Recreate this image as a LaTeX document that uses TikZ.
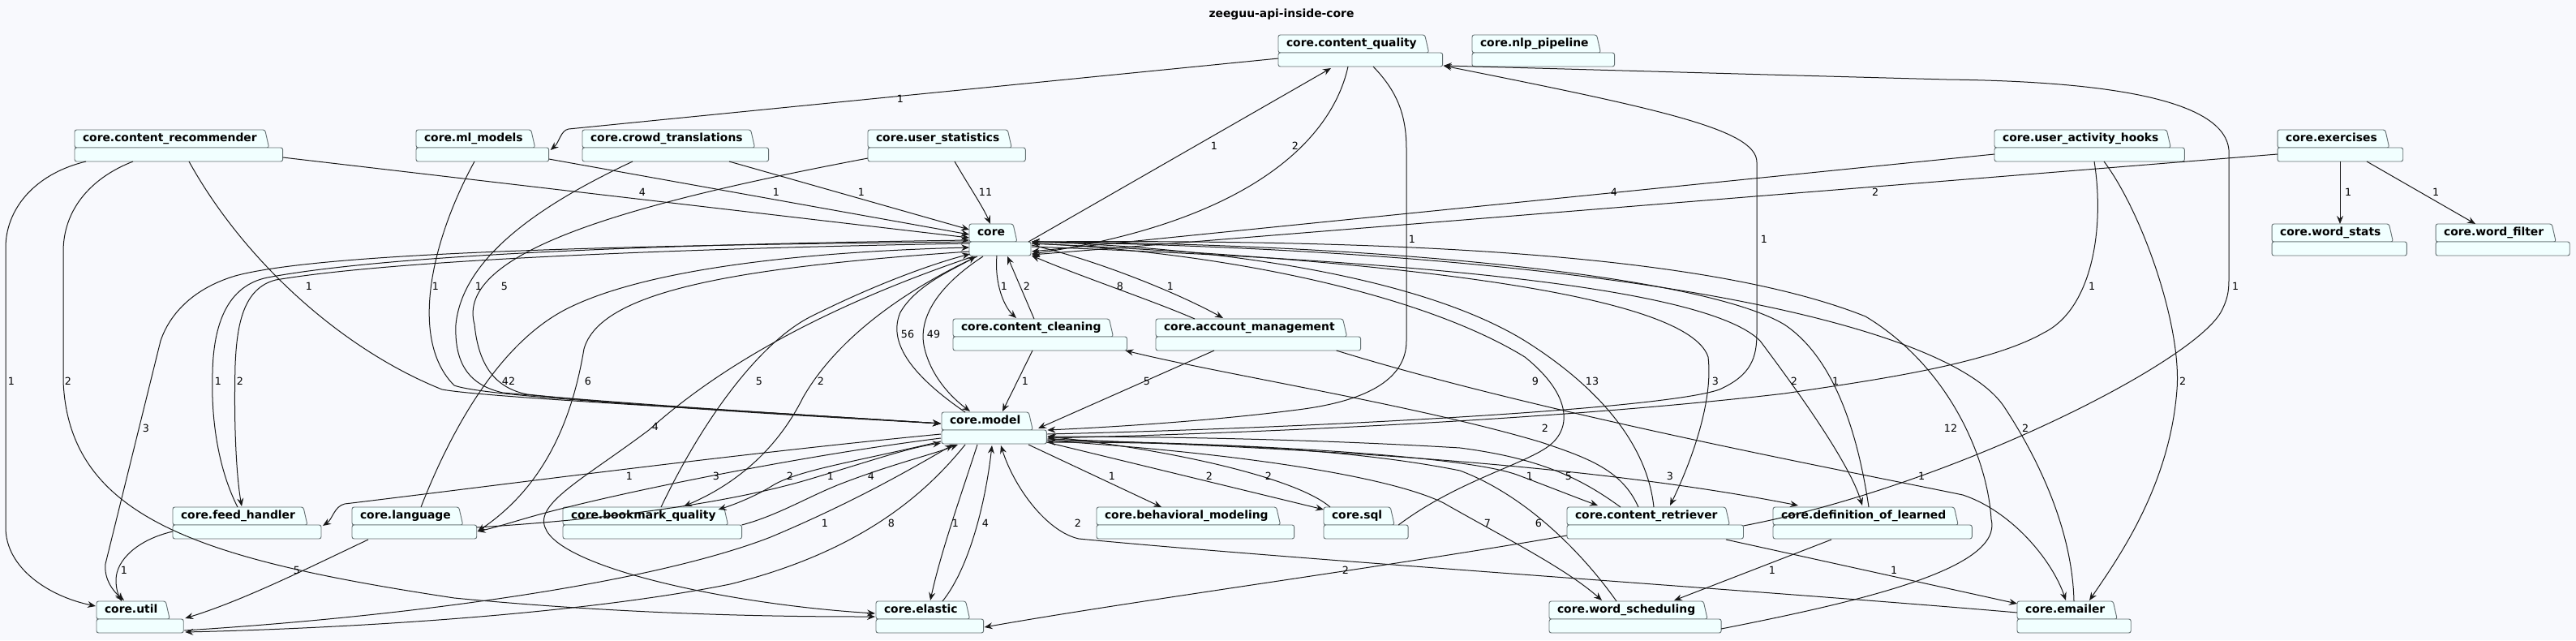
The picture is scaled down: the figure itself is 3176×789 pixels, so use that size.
\documentclass[tikz,border=0pt]{standalone}
\usepackage{fontspec}
\setmainfont{DejaVu Sans}
\usetikzlibrary{arrows.meta,calc,fit}
\definecolor{bgc}{RGB}{248,249,253}
\definecolor{pkgfill}{RGB}{241,255,255}
\definecolor{pkgline}{RGB}{100,112,114}
\definecolor{edgec}{RGB}{24,24,24}
\newcommand\pnw[3]{($(#1.north west)+(#2,#3)$)}
\newcommand\pne[3]{($(#1.north east)+(#2,#3)$)}
\tikzset{
  pkgtab/.style={anchor=north west, inner xsep=7.5pt, inner ysep=0pt, outer sep=0pt,
    minimum height=16.5pt, text height=7.9pt, text depth=2.4pt,
    font=\bfseries\fontsize{10.4pt}{12pt}\selectfont},
  pkgbox/.style={draw=pkgline, fill=pkgfill, line width=0.7pt, rounded corners=1.9pt},
  dep/.style={draw=edgec, line width=0.75pt, line join=round,
    -{Stealth[length=7.5pt, width=6pt, inset=2.6pt]}},
  lbl/.style={font=\fontsize{9.5pt}{11pt}\selectfont, inner sep=0pt, text=black},
}
\newcommand\mkpkg[4]{%
  \node[pkgtab] (#1t) at (#2,#3) {\phantom{#4}};
  \coordinate (#1br) at ($(#1t.south east)+(22,17)$);
  \filldraw[pkgbox] (#1t.south west) -- (#1t.north west) -- (#1t.north east) -- ($(#1t.south east)+(5,0)$) -- cycle;
  \filldraw[pkgbox] (#1t.south west) rectangle (#1br);
  \node[pkgtab] (#1l) at (#2,#3) {#4};
  \node[fit=(#1t)(#1br), inner sep=0pt, outer sep=0pt] (#1) {};
}
\begin{document}
\begin{tikzpicture}[x=0.75pt, y=-0.75pt]
\fill[bgc] (0,0) rectangle (3176,789);
\useasboundingbox (0,0) rectangle (3176,789);
\node[font=\bfseries\fontsize{10.4pt}{12pt}\selectfont] (title) at (1580,18) {zeeguu-api-inside-core};

\mkpkg{cq}{1576}{43}{core.content\_quality}
\mkpkg{nlp}{1815}{43}{core.nlp\_pipeline}
\mkpkg{crec}{92}{160}{core.content\_recommender}
\mkpkg{ml}{513}{160}{core.ml\_models}
\mkpkg{crowd}{718}{160}{core.crowd\_translations}
\mkpkg{ustat}{1070}{160}{core.user\_statistics}
\mkpkg{uah}{2459}{160}{core.user\_activity\_hooks}
\mkpkg{ex}{2808}{160}{core.exercises}
\mkpkg{core}{1195}{276}{core}
\mkpkg{ws}{2801}{276}{core.word\_stats}
\mkpkg{wf}{3003}{276}{core.word\_filter}
\mkpkg{cc}{1175}{393}{core.content\_cleaning}
\mkpkg{am}{1425}{393}{core.account\_management}
\mkpkg{model}{1161}{508}{core.model}
\mkpkg{fh}{213}{625}{core.feed\_handler}
\mkpkg{lang}{434}{625}{core.language}
\mkpkg{bq}{694}{625}{core.bookmark\_quality}
\mkpkg{bm}{1352}{625}{core.behavioral\_modeling}
\mkpkg{sql}{1632}{625}{core.sql}
\mkpkg{cr}{1932}{625}{core.content\_retriever}
\mkpkg{dol}{2186}{625}{core.definition\_of\_learned}
\mkpkg{util}{119}{741}{core.util}
\mkpkg{el}{1080}{741}{core.elastic}
\mkpkg{wsch}{1910}{741}{core.word\_scheduling}
\mkpkg{em}{2487}{741}{core.emailer}

% ---- edges ----
\draw[dep] \pnw{cq}{0}{29} -- (701,159) .. controls (691,161) and (690,175) .. \pne{ml}{2}{25};
\node[lbl] (l1) at (1110,122) {1};
\draw[dep] \pne{core}{-3}{22} -- \pnw{cq}{65}{41};
\node[lbl] (l2) at (1497,180) {1};
\draw[dep] \pnw{cq}{86}{39} .. controls (1645,160) and (1560,270) .. \pne{core}{1}{37};
\node[lbl] (l3) at (1597,180) {2};
\draw[dep] \pnw{cq}{117}{39} .. controls (1725,115) and (1734,145) .. (1734,185) -- (1734,420) .. controls (1734,470) and (1680,495) .. (1600,505) .. controls (1500,518) and (1380,526) .. \pne{model}{1}{22};
\node[lbl] (l4) at (1741,295) {1};
\draw[dep] \pne{model}{1}{27} .. controls (1600,528) and (2050,505) .. (2120,480) .. controls (2160,462) and (2166,440) .. (2166,410) -- (2166,200) .. controls (2166,160) and (2050,135) .. \pne{cq}{1}{38};
\node[lbl] (l5) at (2175,295) {1};
\draw[dep] \pne{cr}{0}{23} .. controls (2400,600) and (2700,450) .. (2738,385) .. controls (2746,370) and (2748,360) .. (2748,345) -- (2748,185) .. controls (2742,115) and (2560,100) .. (2400,98) .. controls (2100,90) and (1900,84) .. \pne{cq}{1}{38};
\node[lbl] (l6) at (2756,353) {1};
\draw[dep] \pne{crec}{0}{34} -- \pnw{core}{0}{17};
\node[lbl] (l7) at (792,237) {4};
\draw[dep] \pne{ml}{0}{36} -- \pnw{core}{0}{13};
\node[lbl] (l8) at (957,237) {1};
\draw[dep] \pnw{crowd}{181}{39} -- \pnw{core}{0}{7};
\node[lbl] (l9) at (1062,237) {1};
\draw[dep] \pnw{ustat}{107}{39} .. controls (1195,230) and (1212,255) .. \pnw{core}{26}{0};
\node[lbl] (l10) at (1215,237) {11};
\draw[dep] \pnw{uah}{0}{30} -- \pne{core}{1}{34};
\node[lbl] (l11) at (1990,237) {4};
\draw[dep] \pnw{ex}{0}{30} -- \pne{core}{1}{38};
\node[lbl] (l12) at (2312,237) {2};
\draw[dep] \pnw{ex}{77}{39} -- \pnw{ws}{84}{0};
\node[lbl] (l13) at (2895,237) {1};
\draw[dep] \pnw{ex}{110}{39} -- \pnw{wf}{49}{0};
\node[lbl] (l14) at (3003,237) {1};
\draw[dep] \pnw{core}{34}{39} .. controls (1226,350) and (1238,378) .. \pnw{cc}{78}{-1};
\node[lbl] (l15) at (1238,353) {1};
\draw[dep] \pnw{cc}{100}{0} -- \pnw{core}{47}{40};
\node[lbl] (l16) at (1266,353) {2};
\draw[dep] \pnw{am}{48}{0} .. controls (1420,370) and (1330,340) .. \pne{core}{1}{39};
\node[lbl] (l17) at (1381,353) {8};
\draw[dep] \pne{core}{1}{26} .. controls (1350,320) and (1450,360) .. \pnw{am}{83}{-1};
\node[lbl] (l18) at (1443,353) {1};
\draw[dep] \pnw{crec}{14}{39} .. controls (40,215) and (7,260) .. (7,305) -- (7,650) .. controls (7,700) and (60,735) .. \pnw{util}{-1}{6};
\node[lbl] (l19) at (14,470) {1};
\draw[dep] \pnw{crec}{72}{39} .. controls (110,220) and (78,260) .. (78,310) -- (78,470) .. controls (85,640) and (250,690) .. (560,737) .. controls (800,760) and (1000,760) .. \pnw{el}{-1}{19};
\node[lbl] (l20) at (84,470) {2};
\draw[dep] \pnw{core}{0}{22} .. controls (800,302) and (400,310) .. (290,340) .. controls (240,355) and (210,385) .. (198,420) -- (130,695) .. controls (128,715) and (141,730) .. \pnw{util}{34}{-1};
\node[lbl] (l21) at (180,528) {3};
\draw[dep] \pnw{fh}{80}{0} .. controls (270,580) and (260,520) .. (262,460) .. controls (263,400) and (280,352) .. (330,342) .. controls (500,310) and (900,300) .. \pnw{core}{0}{20};
\node[lbl] (l22) at (269,470) {1};
\draw[dep] \pnw{core}{0}{24} .. controls (900,305) and (500,318) .. (340,345) .. controls (300,355) and (292,400) .. (290,450) .. controls (288,530) and (292,590) .. \pnw{fh}{85}{-1};
\node[lbl] (l23) at (296,470) {2};
\draw[dep] \pnw{lang}{85}{0} .. controls (560,520) and (620,420) .. (700,380) .. controls (800,330) and (1000,310) .. \pnw{core}{0}{29};
\node[lbl] (l24) at (627,470) {42};
\draw[dep] \pnw{core}{0}{34} .. controls (900,330) and (740,360) .. (720,430) .. controls (705,520) and (670,600) .. \pne{lang}{1}{30};
\node[lbl] (l25) at (725,470) {6};
\draw[dep] \pnw{bq}{121}{0} .. controls (870,510) and (940,420) .. (1000,390) .. controls (1080,350) and (1150,325) .. \pnw{core}{1}{37};
\node[lbl] (l26) at (936,470) {5};
\draw[dep] \pnw{core}{10}{40} .. controls (1110,360) and (1030,420) .. (990,490) .. controls (955,560) and (900,600) .. \pnw{bq}{149}{-1};
\node[lbl] (l27) at (1012,470) {2};
\draw[dep] \pnw{core}{5}{40} .. controls (1040,370) and (900,440) .. (800,530) .. controls (720,590) and (660,620) .. (672,650) .. controls (690,700) and (900,745) .. \pnw{el}{-1}{15};
\node[lbl] (l28) at (808,526) {4};
\draw[dep] \pnw{model}{29}{0} .. controls (1120,460) and (1095,420) .. (1110,385) .. controls (1130,350) and (1180,330) .. \pnw{core}{8}{40};
\node[lbl] (l29) at (1119,412) {56};
\draw[dep] \pnw{core}{17}{40} .. controls (1160,350) and (1130,390) .. (1140,430) .. controls (1150,470) and (1180,495) .. \pnw{model}{35}{-1};
\node[lbl] (l30) at (1151,412) {49};
\draw[dep] \pnw{cc}{98}{39} -- \pnw{model}{75}{-1};
\node[lbl] (l31) at (1264,470) {1};
\draw[dep] \pnw{am}{72}{39} -- \pnw{model}{119}{20};
\node[lbl] (l32) at (1414,470) {5};
\draw[dep] \pnw{crec}{141}{39} .. controls (300,320) and (420,430) .. (545,480) .. controls (600,490) and (900,505) .. \pnw{model}{-1}{14};
\node[lbl] (l33) at (381,353) {1};
\draw[dep] \pnw{ml}{72}{39} .. controls (530,300) and (505,420) .. (560,475) .. controls (600,490) and (900,505) .. \pnw{model}{-1}{14};
\node[lbl] (l34) at (537,353) {1};
\draw[dep] \pnw{crowd}{62}{39} .. controls (660,255) and (570,320) .. (562,400) .. controls (560,450) and (580,475) .. (620,484) .. controls (800,500) and (1000,512) .. \pnw{model}{-1}{14};
\node[lbl] (l35) at (590,353) {1};
\draw[dep] \pnw{ustat}{0}{35} .. controls (780,250) and (560,310) .. (585,400) .. controls (590,450) and (610,478) .. (650,486) .. controls (800,502) and (1000,513) .. \pnw{model}{-1}{14};
\node[lbl] (l36) at (622,353) {5};
\draw[dep] \pnw{model}{-1}{27} .. controls (900,560) and (600,600) .. (425,621) .. controls (412,624) and (410,640) .. \pne{fh}{2}{23};
\node[lbl] (l37) at (776,587) {1};
\draw[dep] \pnw{model}{-1}{32} .. controls (1000,560) and (800,600) .. (700,625) .. controls (650,637) and (620,648) .. \pne{lang}{1}{30};
\node[lbl] (l38) at (883,587) {3};
\draw[dep] \pne{lang}{0}{25} .. controls (750,640) and (900,620) .. (1000,590) .. controls (1080,566) and (1120,552) .. \pnw{model}{-1}{38};
\node[lbl] (l39) at (1024,587) {1};
\draw[dep] \pnw{model}{-1}{36} .. controls (1050,570) and (980,580) .. (950,600) .. controls (930,612) and (905,622) .. \pne{bq}{-29}{3};
\node[lbl] (l40) at (974,587) {2};
\draw[dep] \pne{bq}{0}{22} .. controls (960,635) and (1000,610) .. (1040,595) .. controls (1100,572) and (1150,560) .. \pnw{model}{20}{40};
\node[lbl] (l41) at (1074,587) {4};
\draw[dep] \pne{util}{1}{36} .. controls (500,760) and (800,720) .. (950,662) .. controls (1050,620) and (1120,580) .. \pnw{model}{14}{40};
\node[lbl] (l42) at (1017,645) {1};
\draw[dep] \pnw{model}{29}{40} .. controls (1140,610) and (1060,680) .. (900,720) .. controls (700,760) and (400,775) .. \pne{util}{2}{38};
\node[lbl] (l43) at (1099,645) {8};
\draw[dep] \pnw{model}{44}{40} .. controls (1185,610) and (1160,680) .. \pnw{el}{67}{-1};
\node[lbl] (l44) at (1178,645) {1};
\draw[dep] \pnw{el}{82}{0} .. controls (1195,700) and (1215,620) .. \pnw{model}{62}{41};
\node[lbl] (l45) at (1215,645) {4};
\draw[dep] \pnw{model}{107}{40} -- \pnw{bm}{80}{0};
\node[lbl] (l46) at (1371,587) {1};
\draw[dep] \pne{model}{0}{37} -- \pnw{sql}{0}{3};
\node[lbl] (l47) at (1491,587) {2};
\draw[dep] \pnw{sql}{8}{0} .. controls (1600,590) and (1450,555) .. \pne{model}{1}{30};
\node[lbl] (l48) at (1564,587) {2};
\draw[dep] \pne{sql}{-12}{22} .. controls (1800,590) and (1890,570) .. (1915,545) .. controls (1940,520) and (1930,480) .. (1880,440) .. controls (1750,360) and (1500,310) .. \pne{core}{1}{24};
\node[lbl] (l49) at (1893,470) {9};
\draw[dep] \pnw{cr}{107}{0} .. controls (2030,540) and (1960,470) .. (1880,420) .. controls (1750,340) and (1500,305) .. \pne{core}{1}{22};
\node[lbl] (l50) at (1963,470) {13};
\draw[dep] \pne{core}{1}{24} .. controls (1700,320) and (2080,360) .. (2106,440) .. controls (2113,500) and (2080,580) .. \pnw{cr}{127}{-2};
\node[lbl] (l51) at (2115,470) {3};
\draw[dep] \pne{core}{1}{28} .. controls (1700,320) and (2100,350) .. (2170,420) .. controls (2215,480) and (2280,570) .. \pnw{dol}{110}{-2};
\node[lbl] (l52) at (2212,470) {2};
\draw[dep] \pnw{dol}{118}{0} .. controls (2290,530) and (2260,440) .. (2200,400) .. controls (2100,340) and (1700,300) .. \pne{core}{1}{22};
\node[lbl] (l53) at (2263,470) {1};
\draw[dep] \pne{wsch}{0}{34} .. controls (2300,740) and (2470,700) .. (2455,640) .. controls (2450,560) and (2400,450) .. (2300,390) .. controls (2100,310) and (1700,295) .. \pne{core}{1}{22};
\node[lbl] (l54) at (2405,528) {12};
\draw[dep] \pnw{em}{70}{0} .. controls (2555,650) and (2510,560) .. (2470,500) .. controls (2400,400) and (2000,310) .. \pne{core}{1}{22};
\node[lbl] (l55) at (2497,528) {2};
\draw[dep] \pnw{uah}{135}{39} .. controls (2640,260) and (2690,400) .. (2684,480) .. controls (2675,600) and (2610,690) .. \pnw{em}{89}{-1};
\node[lbl] (l56) at (2691,470) {2};
\draw[dep] \pnw{uah}{123}{39} .. controls (2595,280) and (2580,380) .. (2520,410) .. controls (2450,450) and (2300,470) .. (2200,485) .. controls (1900,520) and (1500,535) .. \pne{model}{1}{32};
\node[lbl] (l57) at (2579,353) {1};
\draw[dep] \pne{model}{1}{35} .. controls (1500,545) and (1800,560) .. (1870,585) .. controls (1910,600) and (1940,612) .. \pnw{cr}{38}{-2};
\node[lbl] (l58) at (1886,587) {1};
\draw[dep] \pnw{cr}{66}{0} .. controls (1950,590) and (1900,565) .. (1800,552) .. controls (1600,540) and (1400,538) .. \pne{model}{1}{30};
\node[lbl] (l59) at (1934,587) {5};
\draw[dep] \pne{model}{1}{33} .. controls (1700,555) and (2000,580) .. \pnw{dol}{31}{-2};
\node[lbl] (l60) at (2059,587) {3};
\draw[dep] \pne{model}{1}{35} .. controls (1550,560) and (1720,590) .. (1780,620) .. controls (1850,660) and (1930,700) .. \pnw{wsch}{65}{-1};
\node[lbl] (l61) at (1834,645) {7};
\draw[dep] \pnw{wsch}{83}{0} .. controls (1950,680) and (1880,610) .. (1800,580) .. controls (1650,550) and (1450,545) .. \pne{model}{1}{37};
\node[lbl] (l62) at (1897,645) {6};
\draw[dep] \pnw{em}{0}{14} .. controls (2200,730) and (1600,690) .. (1330,664) .. controls (1290,655) and (1250,600) .. \pnw{model}{73}{41};
\node[lbl] (l63) at (1329,645) {2};
\draw[dep] \pnw{cr}{0}{35} .. controls (1700,700) and (1400,740) .. \pne{el}{1}{32};
\node[lbl] (l64) at (1659,703) {2};
\draw[dep] \pnw{dol}{72}{40} -- \pnw{wsch}{154}{-1};
\node[lbl] (l65) at (2185,703) {1};
\draw[dep] \pnw{cr}{196}{40} -- \pnw{em}{0}{3};
\node[lbl] (l66) at (2335,703) {1};
\draw[dep] \pne{am}{-30}{39} .. controls (1900,510) and (2300,585) .. (2420,610) .. controls (2480,630) and (2530,690) .. \pnw{em}{60}{-1};
\node[lbl] (l67) at (2369,587) {1};
\draw[dep] \pnw{cr}{88}{0} .. controls (2000,580) and (1960,565) .. (1900,545) .. controls (1750,500) and (1500,460) .. \pne{cc}{-2}{39};
\node[lbl] (l68) at (1905,528) {2};
\draw[dep] \pnw{fh}{0}{30} .. controls (170,665) and (143,690) .. (143,715) .. controls (143,728) and (147,735) .. \pnw{util}{31}{0};
\node[lbl] (l69) at (153,703) {1};
\draw[dep] \pnw{lang}{20}{40} .. controls (380,700) and (300,740) .. \pne{util}{2}{21};
\node[lbl] (l70) at (366,703) {5};
\end{tikzpicture}
\end{document}
